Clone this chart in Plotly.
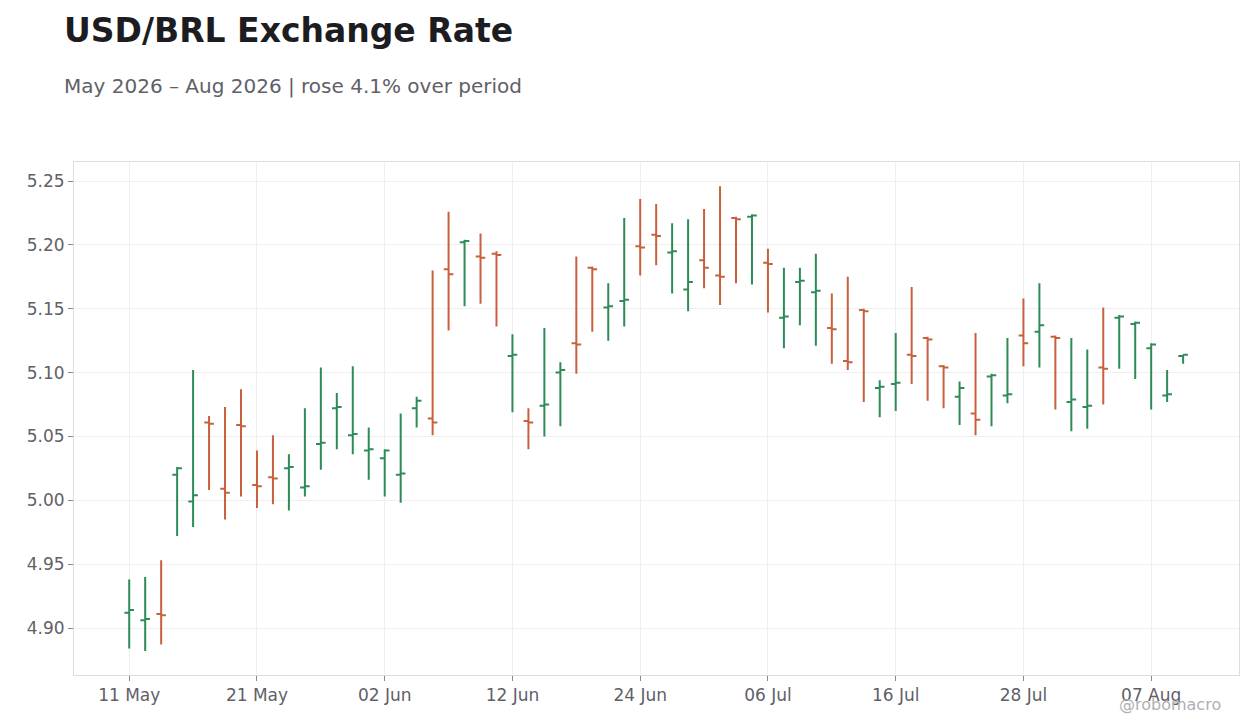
import pandas as pd
import plotly.graph_objects as go

dates = pd.bdate_range("2026-05-11", periods=67)

open_ = [4.912, 4.906, 4.911, 5.020, 4.999, 5.061, 5.009, 5.059, 5.012, 5.018,
         5.025, 5.010, 5.044, 5.072, 5.051, 5.039, 5.033, 5.020, 5.072, 5.064,
         5.181, 5.202, 5.191, 5.193, 5.113, 5.062, 5.074, 5.100, 5.123, 5.182,
         5.151, 5.156, 5.199, 5.208, 5.194, 5.165, 5.188, 5.176, 5.221, 5.222,
         5.186, 5.143, 5.171, 5.163, 5.135, 5.109, 5.149, 5.088, 5.091, 5.114,
         5.127, 5.105, 5.081, 5.068, 5.097, 5.082, 5.129, 5.132, 5.128, 5.077,
         5.073, 5.104, 5.143, 5.138, 5.119, 5.082, 5.113]
high = [4.938, 4.940, 4.953, 5.026, 5.102, 5.066, 5.073, 5.087, 5.039, 5.051,
        5.036, 5.072, 5.104, 5.084, 5.105, 5.057, 5.040, 5.068, 5.081, 5.180,
        5.226, 5.204, 5.209, 5.195, 5.130, 5.072, 5.135, 5.108, 5.191, 5.183,
        5.170, 5.221, 5.236, 5.232, 5.217, 5.220, 5.228, 5.246, 5.222, 5.224,
        5.197, 5.182, 5.182, 5.193, 5.162, 5.175, 5.150, 5.094, 5.131, 5.167,
        5.128, 5.106, 5.093, 5.131, 5.099, 5.127, 5.158, 5.170, 5.129, 5.127,
        5.118, 5.151, 5.145, 5.140, 5.123, 5.102, 5.114]
low = [4.884, 4.882, 4.887, 4.972, 4.979, 5.008, 4.985, 5.003, 4.994, 4.997,
       4.992, 5.003, 5.024, 5.040, 5.036, 5.016, 5.003, 4.998, 5.057, 5.051,
       5.133, 5.152, 5.154, 5.136, 5.069, 5.040, 5.050, 5.058, 5.099, 5.132,
       5.125, 5.136, 5.176, 5.184, 5.162, 5.148, 5.166, 5.153, 5.170, 5.169,
       5.147, 5.119, 5.137, 5.121, 5.107, 5.102, 5.077, 5.065, 5.070, 5.091,
       5.078, 5.072, 5.059, 5.051, 5.058, 5.076, 5.105, 5.104, 5.071, 5.054,
       5.056, 5.075, 5.103, 5.095, 5.071, 5.077, 5.107]
close = [4.914, 4.907, 4.910, 5.025, 5.004, 5.060, 5.006, 5.058, 5.011, 5.017,
         5.026, 5.011, 5.045, 5.073, 5.052, 5.040, 5.039, 5.021, 5.078, 5.061,
         5.177, 5.203, 5.190, 5.192, 5.114, 5.061, 5.075, 5.102, 5.122, 5.181,
         5.152, 5.157, 5.198, 5.207, 5.195, 5.171, 5.182, 5.175, 5.220, 5.223,
         5.185, 5.144, 5.172, 5.164, 5.134, 5.108, 5.148, 5.089, 5.092, 5.113,
         5.126, 5.104, 5.088, 5.063, 5.098, 5.083, 5.123, 5.137, 5.127, 5.079,
         5.074, 5.103, 5.144, 5.139, 5.122, 5.083, 5.114]

tick_dates = ["2026-05-11", "2026-05-21", "2026-06-02", "2026-06-12", "2026-06-24",
              "2026-07-06", "2026-07-16", "2026-07-28", "2026-08-07"]

title_text = "USD/BRL Exchange Rate"
subtitle_text = "May 2026 \u2013 Aug 2026 | rose 4.1% over period"
watermark = "@robomacro"

UP = "#2e8b57"
DOWN = "#c8603d"
FONT = "DejaVu Sans"

fig = go.Figure(go.Ohlc(
    x=dates, open=open_, high=high, low=low, close=close,
    increasing=dict(line=dict(color=UP, width=2)),
    decreasing=dict(line=dict(color=DOWN, width=2)),
    tickwidth=0.3,
    showlegend=False,
))

fig.update_layout(
    width=1244, height=712,
    margin=dict(l=66, r=13, t=154, b=45),
    paper_bgcolor="white", plot_bgcolor="white",
    font=dict(family=FONT, color="#5f6068", size=17),
    annotations=[
        dict(text="<b>" + title_text + "</b>", xref="paper", yref="paper",
             x=-0.0105, y=1 + (162 - 30) / 513, xanchor="left", yanchor="middle",
             showarrow=False, font=dict(size=33, color="#1c1c21", family=FONT)),
        dict(text=subtitle_text, xref="paper", yref="paper",
             x=-0.0105, y=1 + (162 - 86) / 513, xanchor="left", yanchor="middle",
             showarrow=False, font=dict(size=20, color="#5f6068", family=FONT)),
        dict(text=watermark, xref="paper", yref="paper",
             x=(1223 - 74) / 1165, y=(675 - 705) / 513, xanchor="right", yanchor="middle",
             showarrow=False, font=dict(size=16, color="#b0b0b4", family=FONT)),
    ],
)

fig.update_xaxes(
    range=["2026-05-05 13:00", "2026-08-14 12:00"],
    rangebreaks=[dict(bounds=["sat", "mon"])],
    rangeslider=dict(visible=False),
    tickvals=tick_dates, tickformat="%d %b",
    showgrid=True, gridcolor="#efefef", gridwidth=1,
    showline=True, linecolor="#dddddd", linewidth=1, mirror=True,
    ticks="outside", ticklen=5, tickcolor="#888888",
    tickfont=dict(size=17, color="#5f6068"),
    zeroline=False,
)
fig.update_yaxes(
    range=[4.8632, 5.2649],
    dtick=0.05, tickformat=".2f",
    showgrid=True, gridcolor="#efefef", gridwidth=1,
    showline=True, linecolor="#dddddd", linewidth=1, mirror=True,
    ticks="outside", ticklen=5, tickcolor="#888888",
    tickfont=dict(size=17, color="#5f6068"),
    zeroline=False,
)

fig.write_html("out.html")
